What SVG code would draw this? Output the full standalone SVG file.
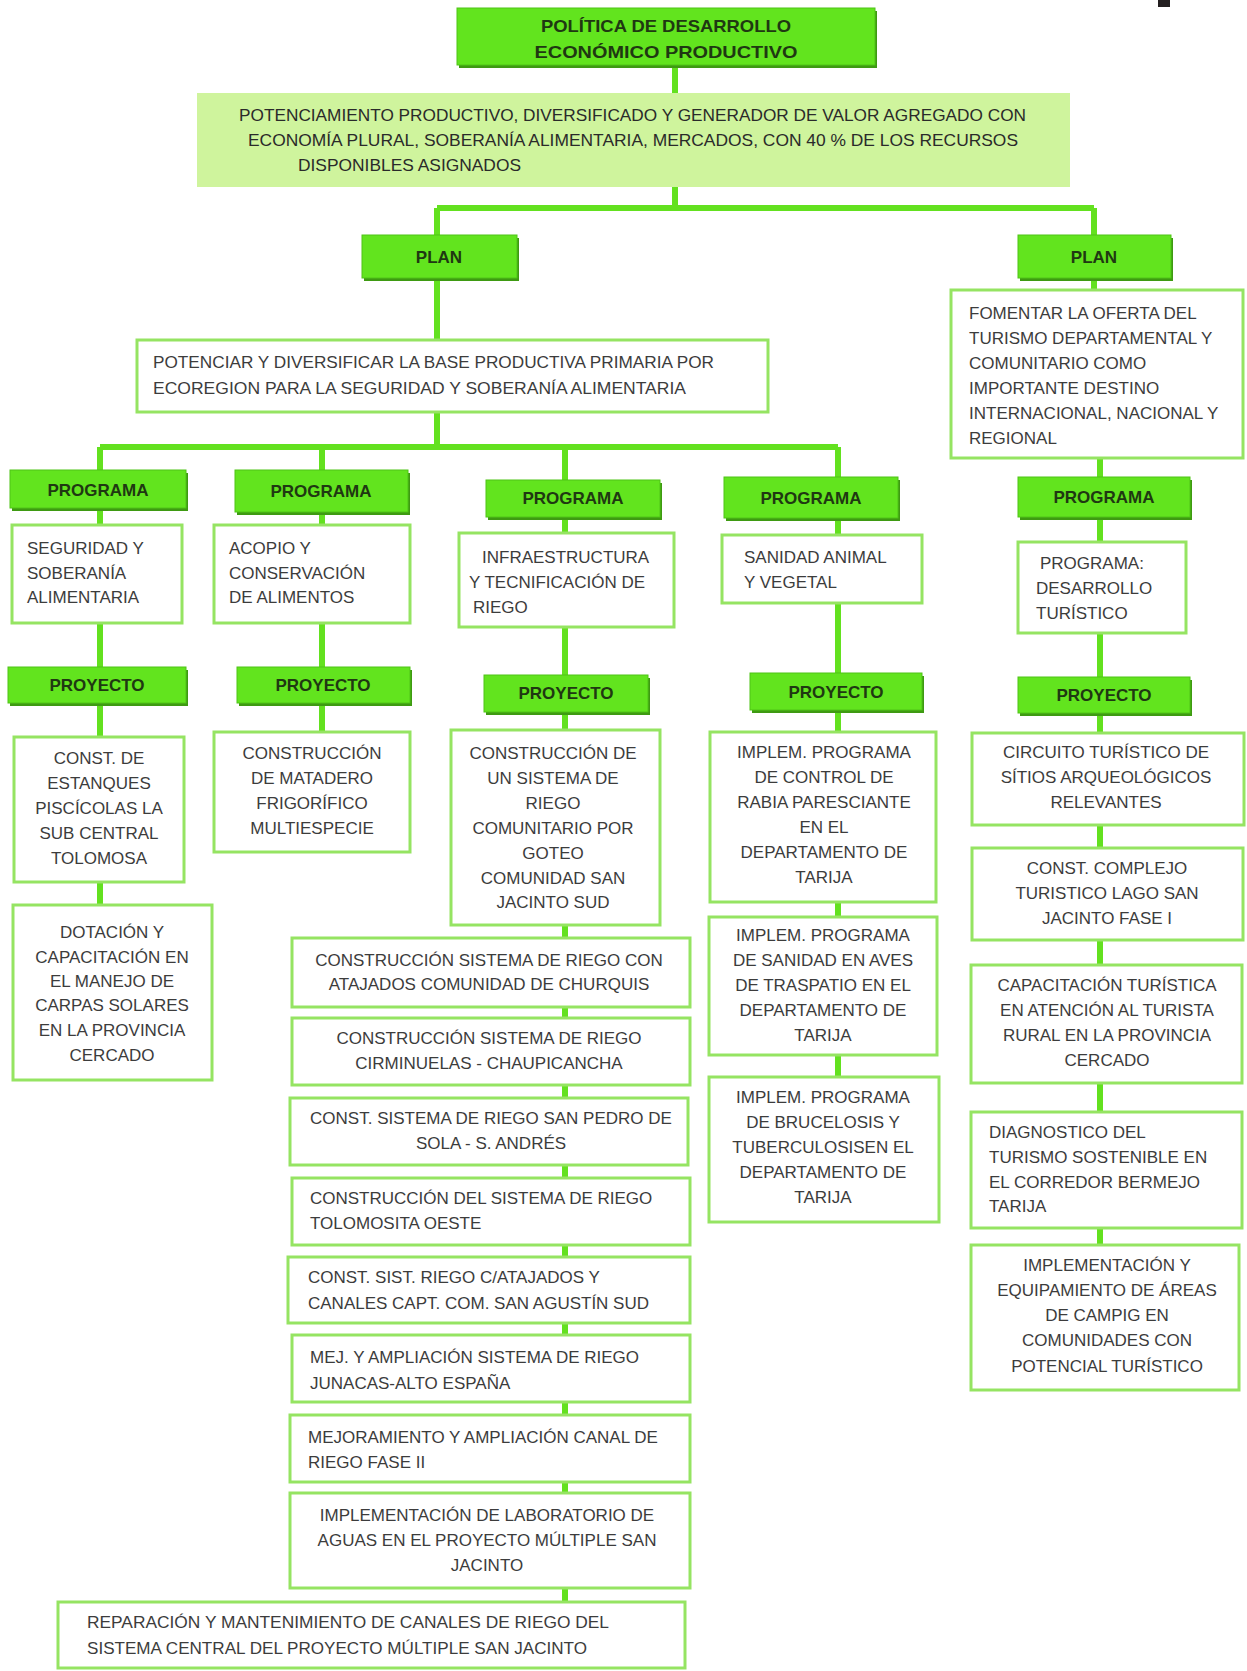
<svg xmlns="http://www.w3.org/2000/svg" width="1247" height="1671" viewBox="0 0 1247 1671">
<style>
.bg{fill:#ffffff}
.con{stroke:#63e11f;stroke-width:6;fill:none}
.gs{fill:#3e9a12}
.g{fill:#62e41e;stroke:#4fc417;stroke-width:1}
.lg{fill:#cff49d}
.w{fill:#ffffff;stroke:#95e462;stroke-width:3}
.ws{fill:#e4eedd}
.lab{font-family:"Liberation Sans",Arial,sans-serif;font-weight:bold;font-size:17px;fill:#1f3812;text-anchor:middle}
.t{font-family:"Liberation Sans",Arial,sans-serif;font-size:17px;fill:#3c3c3c}
.tc{font-family:"Liberation Sans",Arial,sans-serif;font-size:17px;fill:#3c3c3c;text-anchor:middle}
.td{font-family:"Liberation Sans",Arial,sans-serif;font-size:17px;fill:#2a2a2a}
</style>
<rect class="bg" x="0" y="0" width="1247" height="1671"/>
<rect x="1158" y="0" width="12" height="7" fill="#231f20"/>

<g id="connectors">
<path class="con" d="M675 65 V208"/>
<path class="con" d="M437 208 H1094"/>
<path class="con" d="M437 208 V447"/>
<path class="con" d="M1094 208 V290"/>
<path class="con" d="M100 447 H838"/>
<path class="con" d="M100 447 V905"/>
<path class="con" d="M322 447 V732"/>
<path class="con" d="M565 447 V1602"/>
<path class="con" d="M838 447 V1077"/>
<path class="con" d="M1100 458 V1245"/>
</g>

<g id="n-politica">
<rect class="gs" x="459" y="11" width="418" height="57"/>
<rect class="g" x="457" y="8" width="418" height="57"/>
<text class="lab" x="666" y="32" textLength="250" lengthAdjust="spacingAndGlyphs">POLÍTICA DE DESARROLLO</text>
<text class="lab" x="666" y="58" textLength="263" lengthAdjust="spacingAndGlyphs">ECONÓMICO  PRODUCTIVO</text>
</g>

<g id="n-potenciamiento">
<rect class="lg" x="197" y="93" width="873" height="94"/>
<text class="td" x="239" y="121" textLength="787" lengthAdjust="spacingAndGlyphs">POTENCIAMIENTO PRODUCTIVO, DIVERSIFICADO Y GENERADOR DE VALOR AGREGADO CON</text>
<text class="td" x="248" y="146" textLength="770" lengthAdjust="spacingAndGlyphs">ECONOMÍA PLURAL, SOBERANÍA ALIMENTARIA, MERCADOS, CON 40 % DE LOS RECURSOS</text>
<text class="td" x="298" y="171" textLength="223" lengthAdjust="spacingAndGlyphs">DISPONIBLES ASIGNADOS</text>
</g>

<g id="n-plan-1">
<rect class="gs" x="364" y="238" width="155" height="43"/>
<rect class="g" x="362" y="235" width="155" height="43"/>
<text class="lab" x="439" y="263">PLAN</text>
</g>

<g id="n-plan-2">
<rect class="gs" x="1020" y="238" width="153" height="43"/>
<rect class="g" x="1018" y="235" width="153" height="43"/>
<text class="lab" x="1094" y="263">PLAN</text>
</g>

<g id="n-potenciar">
<rect class="w" x="137" y="340" width="631" height="72"/>
<text class="t" x="153" y="368" textLength="561" lengthAdjust="spacingAndGlyphs">POTENCIAR Y DIVERSIFICAR LA BASE PRODUCTIVA PRIMARIA POR</text>
<text class="t" x="153" y="394" textLength="533" lengthAdjust="spacingAndGlyphs">ECOREGION PARA LA SEGURIDAD Y SOBERANÍA ALIMENTARIA</text>
</g>

<g id="n-fomentar">
<rect class="w" x="951" y="290" width="292" height="168"/>
<text class="t" x="969" y="319">FOMENTAR LA OFERTA DEL</text>
<text class="t" x="969" y="344">TURISMO DEPARTAMENTAL Y</text>
<text class="t" x="969" y="369">COMUNITARIO COMO</text>
<text class="t" x="969" y="394">IMPORTANTE DESTINO</text>
<text class="t" x="969" y="419">INTERNACIONAL, NACIONAL Y</text>
<text class="t" x="969" y="444">REGIONAL</text>
</g>

<!-- column 1 -->
<g id="n-programa-1">
<rect class="gs" x="12" y="473" width="176" height="38"/>
<rect class="g" x="10" y="470" width="176" height="38"/>
<text class="lab" x="98" y="496">PROGRAMA</text>
</g>
<g id="n-seguridad">
<rect class="w" x="12" y="525" width="170" height="98"/>
<text class="t" x="27" y="554">SEGURIDAD Y</text>
<text class="t" x="27" y="579">SOBERANÍA</text>
<text class="t" x="27" y="603">ALIMENTARIA</text>
</g>
<g id="n-proyecto-1">
<rect class="gs" x="10" y="670" width="178" height="36"/>
<rect class="g" x="8" y="667" width="178" height="36"/>
<text class="lab" x="97" y="691">PROYECTO</text>
</g>
<g id="n-estanques">
<rect class="w" x="14" y="737" width="170" height="145"/>
<text class="tc" x="99" y="764">CONST. DE</text>
<text class="tc" x="99" y="789">ESTANQUES</text>
<text class="tc" x="99" y="814">PISCÍCOLAS  LA</text>
<text class="tc" x="99" y="839">SUB CENTRAL</text>
<text class="tc" x="99" y="864">TOLOMOSA</text>
</g>
<g id="n-dotacion">
<rect class="w" x="13" y="905" width="199" height="175"/>
<text class="tc" x="112" y="938">DOTACIÓN Y</text>
<text class="tc" x="112" y="963">CAPACITACIÓN EN</text>
<text class="tc" x="112" y="987">EL MANEJO DE</text>
<text class="tc" x="112" y="1011">CARPAS SOLARES</text>
<text class="tc" x="112" y="1036">EN LA PROVINCIA</text>
<text class="tc" x="112" y="1061">CERCADO</text>
</g>

<!-- column 2 -->
<g id="n-programa-2">
<rect class="gs" x="237" y="473" width="173" height="42"/>
<rect class="g" x="235" y="470" width="173" height="42"/>
<text class="lab" x="321" y="497">PROGRAMA</text>
</g>
<g id="n-acopio">
<rect class="w" x="214" y="525" width="196" height="98"/>
<text class="t" x="229" y="554">ACOPIO Y</text>
<text class="t" x="229" y="579">CONSERVACIÓN</text>
<text class="t" x="229" y="603">DE ALIMENTOS</text>
</g>
<g id="n-proyecto-2">
<rect class="gs" x="239" y="670" width="173" height="36"/>
<rect class="g" x="237" y="667" width="173" height="36"/>
<text class="lab" x="323" y="691">PROYECTO</text>
</g>
<g id="n-matadero">
<rect class="w" x="214" y="732" width="196" height="120"/>
<text class="tc" x="312" y="759">CONSTRUCCIÓN</text>
<text class="tc" x="312" y="784">DE MATADERO</text>
<text class="tc" x="312" y="809">FRIGORÍFICO</text>
<text class="tc" x="312" y="834">MULTIESPECIE</text>
</g>

<!-- column 3 -->
<g id="n-programa-3">
<rect class="gs" x="488" y="483" width="174" height="37"/>
<rect class="g" x="486" y="480" width="174" height="37"/>
<text class="lab" x="573" y="504">PROGRAMA</text>
</g>
<g id="n-infraestructura">
<rect class="w" x="459" y="533" width="215" height="94"/>
<text class="t" x="482" y="563">INFRAESTRUCTURA</text>
<text class="t" x="469" y="588">Y TECNIFICACIÓN DE</text>
<text class="t" x="473" y="613">RIEGO</text>
</g>
<g id="n-proyecto-3">
<rect class="gs" x="486" y="678" width="164" height="37"/>
<rect class="g" x="484" y="675" width="164" height="37"/>
<text class="lab" x="566" y="699">PROYECTO</text>
</g>
<g id="n-goteo">
<rect class="w" x="451" y="730" width="209" height="195"/>
<text class="tc" x="553" y="759">CONSTRUCCIÓN DE</text>
<text class="tc" x="553" y="784">UN SISTEMA DE</text>
<text class="tc" x="553" y="809">RIEGO</text>
<text class="tc" x="553" y="834">COMUNITARIO POR</text>
<text class="tc" x="553" y="859">GOTEO</text>
<text class="tc" x="553" y="884">COMUNIDAD SAN</text>
<text class="tc" x="553" y="908">JACINTO SUD</text>
</g>
<g id="n-churquis">
<rect class="w" x="292" y="938" width="398" height="69"/>
<text class="tc" x="489" y="966">CONSTRUCCIÓN SISTEMA DE RIEGO CON</text>
<text class="tc" x="489" y="990">ATAJADOS COMUNIDAD DE CHURQUIS</text>
</g>
<g id="n-cirminuelas">
<rect class="w" x="292" y="1018" width="398" height="67"/>
<text class="tc" x="489" y="1044">CONSTRUCCIÓN SISTEMA DE RIEGO</text>
<text class="tc" x="489" y="1069">CIRMINUELAS - CHAUPICANCHA</text>
</g>
<g id="n-sanpedro">
<rect class="w" x="290" y="1098" width="398" height="67"/>
<text class="tc" x="491" y="1124">CONST. SISTEMA DE RIEGO SAN PEDRO DE</text>
<text class="tc" x="491" y="1149">SOLA - S. ANDRÉS</text>
</g>
<g id="n-tolomosita">
<rect class="w" x="292" y="1178" width="398" height="67"/>
<text class="t" x="310" y="1204">CONSTRUCCIÓN DEL SISTEMA DE RIEGO</text>
<text class="t" x="310" y="1229">TOLOMOSITA OESTE</text>
</g>
<g id="n-sanagustin">
<rect class="w" x="288" y="1257" width="402" height="66"/>
<text class="t" x="308" y="1283">CONST. SIST. RIEGO C/ATAJADOS Y</text>
<text class="t" x="308" y="1309">CANALES CAPT. COM. SAN AGUSTÍN SUD</text>
</g>
<g id="n-junacas">
<rect class="w" x="292" y="1335" width="398" height="67"/>
<text class="t" x="310" y="1363">MEJ. Y AMPLIACIÓN SISTEMA DE RIEGO</text>
<text class="t" x="310" y="1389">JUNACAS-ALTO ESPAÑA</text>
</g>
<g id="n-fase2">
<rect class="w" x="290" y="1415" width="400" height="67"/>
<text class="t" x="308" y="1443">MEJORAMIENTO Y AMPLIACIÓN CANAL DE</text>
<text class="t" x="308" y="1468">RIEGO FASE II</text>
</g>
<g id="n-laboratorio">
<rect class="w" x="290" y="1493" width="400" height="95"/>
<text class="tc" x="487" y="1521">IMPLEMENTACIÓN DE LABORATORIO DE</text>
<text class="tc" x="487" y="1546">AGUAS EN EL PROYECTO MÚLTIPLE SAN</text>
<text class="tc" x="487" y="1571">JACINTO</text>
</g>
<g id="n-reparacion">
<rect class="w" x="58" y="1602" width="627" height="66"/>
<text class="t" x="87" y="1628" textLength="522" lengthAdjust="spacingAndGlyphs">REPARACIÓN Y MANTENIMIENTO DE CANALES DE RIEGO DEL</text>
<text class="t" x="87" y="1654" textLength="500" lengthAdjust="spacingAndGlyphs">SISTEMA CENTRAL DEL PROYECTO MÚLTIPLE SAN JACINTO</text>
</g>

<!-- column 4 -->
<g id="n-programa-4">
<rect class="gs" x="726" y="480" width="174" height="41"/>
<rect class="g" x="724" y="477" width="174" height="41"/>
<text class="lab" x="811" y="504">PROGRAMA</text>
</g>
<g id="n-sanidad">
<rect class="w" x="722" y="535" width="200" height="68"/>
<text class="t" x="744" y="563">SANIDAD ANIMAL</text>
<text class="t" x="744" y="588">Y VEGETAL</text>
</g>
<g id="n-proyecto-4">
<rect class="gs" x="752" y="676" width="172" height="37"/>
<rect class="g" x="750" y="673" width="172" height="37"/>
<text class="lab" x="836" y="698">PROYECTO</text>
</g>
<g id="n-rabia">
<rect class="w" x="710" y="732" width="226" height="170"/>
<text class="tc" x="824" y="758">IMPLEM. PROGRAMA</text>
<text class="tc" x="824" y="783">DE CONTROL DE</text>
<text class="tc" x="824" y="808">RABIA PARESCIANTE</text>
<text class="tc" x="824" y="833">EN EL</text>
<text class="tc" x="824" y="858">DEPARTAMENTO DE</text>
<text class="tc" x="824" y="883">TARIJA</text>
</g>
<g id="n-aves">
<rect class="w" x="709" y="917" width="228" height="138"/>
<text class="tc" x="823" y="941">IMPLEM. PROGRAMA</text>
<text class="tc" x="823" y="966">DE SANIDAD EN AVES</text>
<text class="tc" x="823" y="991">DE TRASPATIO EN EL</text>
<text class="tc" x="823" y="1016">DEPARTAMENTO DE</text>
<text class="tc" x="823" y="1041">TARIJA</text>
</g>
<g id="n-brucelosis">
<rect class="w" x="709" y="1077" width="230" height="145"/>
<text class="tc" x="823" y="1103">IMPLEM. PROGRAMA</text>
<text class="tc" x="823" y="1128">DE BRUCELOSIS Y</text>
<text class="tc" x="823" y="1153">TUBERCULOSISEN EL</text>
<text class="tc" x="823" y="1178">DEPARTAMENTO DE</text>
<text class="tc" x="823" y="1203">TARIJA</text>
</g>

<!-- column 5 -->
<g id="n-programa-5">
<rect class="gs" x="1020" y="480" width="172" height="40"/>
<rect class="g" x="1018" y="477" width="172" height="40"/>
<text class="lab" x="1104" y="503">PROGRAMA</text>
</g>
<g id="n-desarrollo-turistico">
<rect class="w" x="1018" y="542" width="168" height="91"/>
<text class="t" x="1040" y="569">PROGRAMA:</text>
<text class="t" x="1036" y="594">DESARROLLO</text>
<text class="t" x="1036" y="619">TURÍSTICO</text>
</g>
<g id="n-proyecto-5">
<rect class="gs" x="1020" y="680" width="172" height="36"/>
<rect class="g" x="1018" y="677" width="172" height="36"/>
<text class="lab" x="1104" y="701">PROYECTO</text>
</g>
<g id="n-circuito">
<rect class="w" x="972" y="733" width="272" height="92"/>
<text class="tc" x="1106" y="758">CIRCUITO TURÍSTICO DE</text>
<text class="tc" x="1106" y="783">SÍTIOS ARQUEOLÓGICOS</text>
<text class="tc" x="1106" y="808">RELEVANTES</text>
</g>
<g id="n-complejo">
<rect class="w" x="972" y="848" width="271" height="92"/>
<text class="tc" x="1107" y="874">CONST. COMPLEJO</text>
<text class="tc" x="1107" y="899">TURISTICO LAGO SAN</text>
<text class="tc" x="1107" y="924">JACINTO FASE I</text>
</g>
<g id="n-capacitacion">
<rect class="w" x="971" y="965" width="271" height="118"/>
<text class="tc" x="1107" y="991">CAPACITACIÓN TURÍSTICA</text>
<text class="tc" x="1107" y="1016">EN ATENCIÓN AL TURISTA</text>
<text class="tc" x="1107" y="1041">RURAL EN LA PROVINCIA</text>
<text class="tc" x="1107" y="1066">CERCADO</text>
</g>
<g id="n-diagnostico">
<rect class="w" x="971" y="1112" width="271" height="116"/>
<text class="t" x="989" y="1138">DIAGNOSTICO DEL</text>
<text class="t" x="989" y="1163">TURISMO SOSTENIBLE EN</text>
<text class="t" x="989" y="1188">EL CORREDOR BERMEJO</text>
<text class="t" x="989" y="1212">TARIJA</text>
</g>
<g id="n-camping">
<rect class="w" x="971" y="1245" width="268" height="145"/>
<text class="tc" x="1107" y="1271">IMPLEMENTACIÓN Y</text>
<text class="tc" x="1107" y="1296">EQUIPAMIENTO DE ÁREAS</text>
<text class="tc" x="1107" y="1321">DE CAMPIG EN</text>
<text class="tc" x="1107" y="1346">COMUNIDADES  CON</text>
<text class="tc" x="1107" y="1372">POTENCIAL TURÍSTICO</text>
</g>
</svg>
